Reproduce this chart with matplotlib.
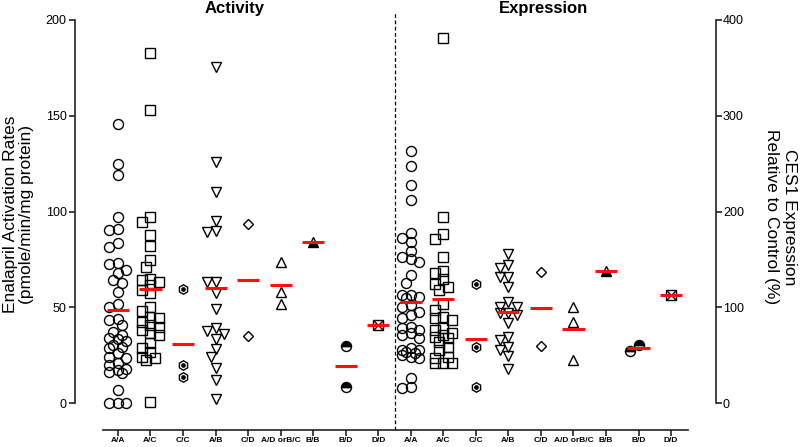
import numpy as np
import matplotlib.pyplot as plt
from matplotlib import transforms

plt.rcParams['font.family'] = ['Liberation Sans', 'DejaVu Sans']

genotypes = ['A/A', 'A/C', 'C/C', 'A/B', 'C/D', 'A/D orB/C', 'B/B', 'B/D', 'D/D']

# enalapril activation (pmole/min/mg protein)
act_aa = [145.7, 124.8, 119.2, 97.3, 91.0, 90.3, 83.4, 81.6, 72.9, 72.6, 69.5, 67.7, 64.2, 62.5,
          58.1, 51.5, 50.0, 44.0, 43.3, 40.5, 37.2, 35.5, 33.8, 33.4, 32.5, 30.3, 29.4, 28.5,
          25.9, 24.2, 23.3, 20.7, 19.8, 18.0, 17.2, 16.3, 15.5, 7.0, 0.0, 0.0, 0.0]
act_ac = [183.0, 153.0, 97.0, 94.7, 87.7, 82.0, 74.7, 71.2, 65.0, 64.2, 63.0, 61.6, 59.0, 57.3,
          50.3, 48.2, 45.0, 44.2, 42.5, 40.7, 39.8, 38.1, 36.4, 35.5, 31.2, 28.5, 26.8, 24.2,
          23.3, 22.5, 0.7]
act_cc = [59.4, 19.6, 13.5]
act_ab = [175.6, 126.0, 110.3, 95.2, 89.8, 89.5, 63.3, 63.3, 57.3, 48.9, 39.3, 37.6, 35.9, 33.3,
          28.0, 24.2, 18.1, 12.0, 1.9]
act_cd = [93.5, 35.0]
act_ad_bc = [73.8, 57.8, 51.5]
act_bb = [84.2]
act_bd = [29.8, 8.5]
act_dd = [40.7]
act_means = [48.6, 59.4, 30.8, 60.1, 64.2, 61.4, 84.2, 19.3, 40.7]

# CES1 expression (% of control)
exp_aa = [263.5, 247.5, 227.7, 212.0, 178.0, 172.0, 168.5, 159.0, 152.8, 150.0, 147.6, 133.7,
          125.5, 112.8, 112.8, 111.0, 109.3, 102.3, 100.6, 95.4, 91.9, 88.5, 79.7, 78.0, 76.2,
          72.8, 71.0, 67.6, 57.1, 55.4, 55.4, 53.6, 51.9, 50.1, 48.4, 46.7, 25.8, 17.0, 15.4]
exp_ac = [381.5, 194.0, 177.0, 171.0, 152.8, 137.5, 136.0, 129.0, 124.0, 121.5, 117.5, 103.0,
          97.0, 90.0, 88.5, 86.7, 78.0, 76.2, 72.8, 71.0, 69.2, 67.6, 64.0, 58.8, 55.0, 48.4,
          46.7, 42.0, 41.5, 41.5]
exp_cc = [124.0, 58.8, 17.0]
exp_ab = [155.6, 144.1, 140.7, 131.9, 131.9, 120.8, 105.8, 100.6, 100.6, 94.3, 93.7, 91.9, 83.2,
          69.2, 65.8, 58.8, 55.4, 49.1, 35.2]
exp_cd = [137.1, 59.5]
exp_ad_bc = [100.6, 84.9, 44.9]
exp_bb = [137.5]
exp_bd = [60.2, 54.6]
exp_dd = [112.8]
exp_means = [105.8, 108.3, 66.5, 95.0, 98.9, 77.0, 137.9, 57.1, 112.8]

activity = [act_aa, act_ac, act_cc, act_ab, act_cd, act_ad_bc, act_bb, act_bd, act_dd]
expression = [exp_aa, exp_ac, exp_cc, exp_ab, exp_cd, exp_ad_bc, exp_bb, exp_bd, exp_dd]

styles = [
    dict(marker='o', ms=7.2, mfc='none'),
    dict(marker='s', ms=7.4, mfc='none'),
    dict(marker='h', ms=6.8, mfc='none'),
    dict(marker='v', ms=7.4, mfc='none'),
    dict(marker='D', ms=5.0, mfc='none'),
    dict(marker='^', ms=7.4, mfc='none'),
    dict(marker='^', ms=7.4, mfc='black', fillstyle='bottom'),
    dict(marker='o', ms=7.2, mfc='black', fillstyle='top'),
    dict(marker='s', ms=7.4, mfc='none'),
]

fig = plt.figure(figsize=(8, 4.47), dpi=100)
ax = fig.add_axes([75 / 800, 44 / 447, 641 / 800, 383 / 447])
ax2 = ax.twinx()
ax.set_xlim(-0.32, 19.38)
ax.set_ylim(0, 200)
ax2.set_ylim(0, 400)

p0 = ax.transData.transform((0, 0))
p1 = ax.transData.transform((1, 1))
px_x = p1[0] - p0[0]
px_y = p1[1] - p0[1]


def swarm(vals, ypx, size=8.0, steps=(0, -4.5, 4.5, -8.5, 8.5)):
    # simple beeswarm: shift sideways until the marker stops overlapping
    placed = []
    offs = []
    for v in vals:
        y = v * ypx
        best, best_d = 0, -1
        for s in steps:
            d = min([np.hypot(s - qx, y - qy) for qx, qy in placed], default=1e9)
            if d >= size:
                best = s
                break
            if d > best_d:
                best, best_d = s, d
        placed.append((best, y))
        offs.append(best)
    return np.array(offs) / px_x


def draw(axis, x, vals, st, ypx, i):
    xs = x + swarm(vals, ypx)
    axis.plot(xs, vals, ls='none', mec='black', mew=1.0, clip_on=False, zorder=3, **st)
    if i == 2:
        axis.plot(xs, vals, ls='none', marker='o', ms=2.4, color='black', clip_on=False, zorder=3)
    if i == 8:
        axis.plot(xs, vals, ls='none', marker='x', ms=7.0, mec='black', mew=1.0, clip_on=False, zorder=3)


n = len(genotypes)
for i in range(n):
    xa = i + 1
    xe = i + 1 + n
    draw(ax, xa, activity[i], styles[i], px_y, i)
    draw(ax2, xe, expression[i], styles[i], px_y / 2, i)
    ax.hlines(act_means[i], xa - 0.34, xa + 0.34, color='#ff1010', lw=2.2, zorder=4)
    ax2.hlines(exp_means[i], xe - 0.34, xe + 0.34, color='#ff1010', lw=2.2, zorder=4)

ax.axvline(n + 0.5, ymin=-0.07, ymax=1.018, color='black', lw=0.9, ls=(0, (3, 2)), clip_on=False)

# spines
ax.spines['top'].set_visible(False)
ax.spines['right'].set_visible(False)
ax.spines['bottom'].set_position(('outward', 19.4))
ax.spines['bottom'].set_bounds(0.54, 18.52)
for s in ['top', 'left', 'bottom']:
    ax2.spines[s].set_visible(False)
for sp in [ax.spines['left'], ax.spines['bottom'], ax2.spines['right']]:
    sp.set_linewidth(1.2)
    sp.set_color('#222222')

ax.set_xticks(np.arange(1, 2 * n + 1))
ax.set_xticklabels(genotypes * 2, fontweight='bold', fontsize=6)
ax.tick_params(axis='x', length=4, width=1.2, pad=1, color='#222222')
ax.set_yticks([0, 50, 100, 150, 200])
ax.tick_params(axis='y', length=4, width=1.2, pad=2, labelsize=9, color='#222222')
ax2.set_yticks([0, 100, 200, 300, 400])
ax2.tick_params(axis='y', length=4, width=1.2, pad=1, labelsize=9, color='#222222')

ax.set_ylabel('Enalapril Activation Rates\n(pmole/min/mg protein)', fontsize=12.5,
              linespacing=1.15, ha='center', va='center')
ax.yaxis.set_label_coords(-0.088, 0.493)
ax2.set_ylabel('CES1 Expression\nRelative to Control (%)', fontsize=12.5, rotation=270,
               linespacing=1.25, ha='center', va='center')
ax2.yaxis.set_label_coords(1.1, 0.486)

trans = transforms.blended_transform_factory(ax.transData, ax.transAxes)
ax.text(4.57, 1.031, 'Activity', transform=trans, ha='center', va='center',
        fontsize=12, fontweight='bold')
ax.text(14.07, 1.031, 'Expression', transform=trans, ha='center', va='center',
        fontsize=12, fontweight='bold')

fig.savefig('out.png', dpi=100)
